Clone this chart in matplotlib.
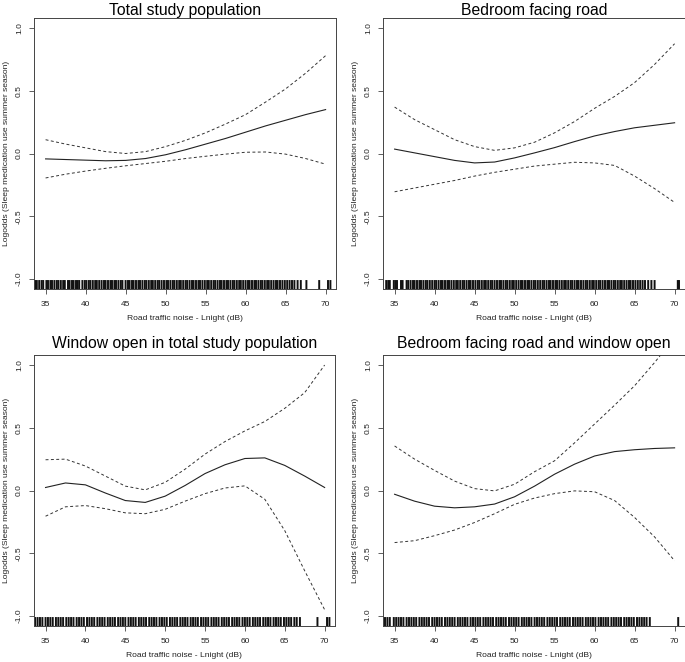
import matplotlib
matplotlib.use('Agg')
import matplotlib.pyplot as plt
import matplotlib.transforms as mtransforms

plt.rcParams['font.family'] = ['Liberation Sans', 'DejaVu Sans']

# noise levels (dB) at which the smooth curves were read
noise = [35, 37.5, 40, 42.5, 45, 47.5, 50, 52.5, 55, 57.5, 60, 62.5, 65, 67.5, 70]

titles = ['Total study population',
          'Bedroom facing road',
          'Window open in total study population',
          'Bedroom facing road and window open']

# log odds estimate and confidence bands per panel
fit_total = [-0.043, -0.048, -0.053, -0.058, -0.055, -0.04, -0.01, 0.03, 0.075, 0.12, 0.17, 0.22, 0.265, 0.31, 0.35]
upper_total = [0.11, 0.075, 0.045, 0.015, 0.0, 0.015, 0.055, 0.105, 0.165, 0.235, 0.31, 0.41, 0.515, 0.64, 0.78]
lower_total = [-0.195, -0.165, -0.14, -0.118, -0.098, -0.08, -0.062, -0.04, -0.022, -0.005, 0.01, 0.012, -0.005, -0.04, -0.085]

fit_road = [0.035, 0.005, -0.025, -0.055, -0.075, -0.068, -0.035, 0.005, 0.047, 0.095, 0.14, 0.175, 0.205, 0.225, 0.245]
upper_road = [0.37, 0.27, 0.19, 0.11, 0.055, 0.025, 0.045, 0.09, 0.165, 0.255, 0.36, 0.455, 0.565, 0.71, 0.875]
lower_road = [-0.305, -0.275, -0.245, -0.215, -0.18, -0.15, -0.125, -0.1, -0.085, -0.07, -0.075, -0.095, -0.18, -0.28, -0.39]

fit_window = [0.024, 0.06, 0.045, -0.02, -0.08, -0.095, -0.045, 0.04, 0.135, 0.205, 0.255, 0.26, 0.2, 0.115, 0.024]
upper_window = [0.245, 0.25, 0.195, 0.115, 0.035, 0.005, 0.065, 0.17, 0.29, 0.39, 0.475, 0.55, 0.655, 0.78, 1.0]
lower_window = [-0.205, -0.13, -0.12, -0.145, -0.178, -0.185, -0.15, -0.085, -0.025, 0.02, 0.037, -0.07, -0.32, -0.64, -0.95]

fit_road_window = [-0.03, -0.085, -0.125, -0.138, -0.13, -0.108, -0.05, 0.035, 0.13, 0.21, 0.275, 0.31, 0.325, 0.335, 0.34]
upper_road_window = [0.355, 0.25, 0.16, 0.075, 0.015, -0.003, 0.05, 0.15, 0.237, 0.38, 0.53, 0.68, 0.835, 1.02, 1.22]
lower_road_window = [-0.415, -0.4, -0.36, -0.315, -0.255, -0.185, -0.11, -0.06, -0.025, -0.003, -0.01, -0.08, -0.215, -0.37, -0.56]

# observed noise levels (rug)
rug_total = [33.7, 33.9, 34.2, 34.5, 34.7, 35.1, 35.3, 35.6, 35.8, 36.1, 36.4, 36.6, 36.9, 37.2, 37.4,
             37.8, 38.0, 38.3, 38.5, 38.8, 39.0, 39.2, 39.6, 39.9, 40.1, 40.4, 40.6, 40.9, 41.2, 41.4,
             41.7, 42.0, 42.3, 42.5, 42.8, 43.1, 43.3, 43.6, 43.8, 44.1, 44.4, 44.6, 45.0, 45.3, 45.5,
             45.8, 46.0, 46.3, 46.6, 46.8, 47.1, 47.4, 47.6, 47.9, 48.2, 48.4, 48.7, 49.0, 49.2, 49.5,
             49.8, 50.1, 50.3, 50.6, 50.9, 51.1, 51.4, 51.7, 51.9, 52.2, 52.5, 52.7, 53.0, 53.3, 53.5,
             53.8, 54.1, 54.3, 54.6, 54.9, 55.2, 55.4, 55.7, 56.0, 56.2, 56.5, 56.8, 57.0, 57.3, 57.6,
             57.8, 58.1, 58.4, 58.6, 58.9, 59.2, 59.4, 59.7, 60.0, 60.3, 60.5, 60.8, 61.1, 61.3, 61.6,
             61.9, 62.1, 62.4, 62.7, 62.9, 63.2, 63.5, 63.8, 64.0, 64.3, 64.6, 64.9, 65.2, 65.5, 65.8,
             66.1, 66.5, 66.9, 67.6, 69.2, 70.3, 70.6]
rug_road = [33.95, 34.2, 34.4, 34.9, 35.1, 35.3, 35.8, 36.0, 36.5, 36.7, 37.0, 37.3, 37.5, 37.8, 38.1,
            38.3, 38.6, 38.9, 39.1, 39.4, 39.7, 40.0, 40.2, 40.5, 40.8, 41.0, 41.3, 41.6, 41.8, 42.1,
            42.4, 42.7, 42.9, 43.2, 43.5, 43.7, 44.0, 44.3, 44.5, 44.8, 45.1, 45.4, 45.6, 45.9, 46.2,
            46.4, 46.7, 47.0, 47.2, 47.5, 47.8, 48.1, 48.3, 48.6, 48.9, 49.1, 49.4, 49.7, 49.9, 50.2,
            50.5, 50.8, 51.0, 51.3, 51.6, 51.8, 52.1, 52.4, 52.6, 52.9, 53.2, 53.5, 53.7, 54.0, 54.3,
            54.5, 54.8, 55.1, 55.3, 55.6, 55.9, 56.2, 56.4, 56.7, 57.0, 57.2, 57.5, 57.8, 58.0, 58.3,
            58.6, 58.9, 59.1, 59.4, 59.7, 59.9, 60.2, 60.5, 60.7, 61.0, 61.3, 61.6, 61.8, 62.1, 62.4,
            62.6, 62.9, 63.2, 63.4, 63.7, 64.0, 64.3, 64.5, 64.8, 65.1, 65.4, 65.7, 66.0, 66.3, 66.7,
            67.1, 67.5, 70.4, 70.55]
rug_window = [33.7, 34.0, 34.3, 34.6, 35.0, 35.3, 35.6, 35.9, 36.3, 36.6, 36.9, 37.2, 37.6, 37.9, 38.2,
              38.5, 38.9, 39.2, 39.5, 39.8, 40.2, 40.5, 40.8, 41.1, 41.5, 41.8, 42.1, 42.4, 42.8, 43.1,
              43.4, 43.7, 44.1, 44.4, 44.7, 45.0, 45.4, 45.7, 46.0, 46.3, 46.7, 47.0, 47.3, 47.6, 48.0,
              48.3, 48.6, 48.9, 49.3, 49.6, 49.9, 50.2, 50.6, 50.9, 51.2, 51.5, 51.9, 52.2, 52.5, 52.8,
              53.2, 53.5, 53.8, 54.1, 54.5, 54.8, 55.1, 55.4, 55.8, 56.1, 56.4, 56.7, 57.1, 57.4, 57.7,
              58.0, 58.4, 58.7, 59.0, 59.3, 59.7, 60.0, 60.3, 60.6, 61.0, 61.3, 61.6, 61.9, 62.3, 62.6,
              62.9, 63.2, 63.6, 63.9, 64.2, 64.5, 64.9, 65.2, 65.5, 65.8, 66.2, 66.5, 66.9, 69.1, 70.3,
              70.6]
rug_road_window = [33.8, 34.1, 34.4, 34.9, 35.2, 35.5, 35.8, 36.1, 36.5, 36.8, 37.1, 37.4, 37.7, 38.1, 38.4,
                   38.7, 39.0, 39.3, 39.7, 40.0, 40.3, 40.6, 40.9, 41.3, 41.6, 41.9, 42.2, 42.5, 42.9, 43.2,
                   43.5, 43.8, 44.1, 44.5, 44.8, 45.1, 45.4, 45.7, 46.1, 46.4, 46.7, 47.0, 47.3, 47.7, 48.0,
                   48.3, 48.6, 48.9, 49.3, 49.6, 49.9, 50.2, 50.5, 50.9, 51.2, 51.5, 51.8, 52.1, 52.5, 52.8,
                   53.1, 53.4, 53.7, 54.1, 54.4, 54.7, 55.0, 55.3, 55.7, 56.0, 56.3, 56.6, 56.9, 57.3, 57.6,
                   57.9, 58.2, 58.5, 58.9, 59.2, 59.5, 59.8, 60.1, 60.5, 60.8, 61.1, 61.4, 61.7, 62.1, 62.4,
                   62.7, 63.0, 63.3, 63.7, 64.0, 64.3, 64.6, 64.9, 65.3, 65.6, 65.9, 66.2, 66.5, 66.9, 70.45]

x_ticks = [35, 40, 45, 50, 55, 60, 65, 70]
y_ticks = [-1.0, -0.5, 0.0, 0.5, 1.0]
y_tick_labels = ['-1.0', '-0.5', '0.0', '0.5', '1.0']

panels = [
    (fit_total, upper_total, lower_total, rug_total),
    (fit_road, upper_road, lower_road, rug_road),
    (fit_window, upper_window, lower_window, rug_window),
    (fit_road_window, upper_road_window, lower_road_window, rug_road_window),
]

W, H = 685, 662
fig = plt.figure(figsize=(W / 100, H / 100), dpi=100)

# axes boxes in pixels: left, top, right, bottom
boxes = [(34, 18, 336, 289), (383, 18, 685, 289),
         (34, 355, 335, 626), (383, 355, 685, 626)]
title_pads = [2.5, 2.5, 5, 5]

frame_col = '#444444'
for (fit, up, lo, rug), title, (l, t, r, b), tpad in zip(panels, titles, boxes, title_pads):
    ax = fig.add_axes([l / W, 1 - b / H, (r - l) / W, (b - t) / H])
    ax.plot(noise, fit, color='#222222', lw=0.8)
    ax.plot(noise, up, color='#333333', lw=0.7, linestyle=(0, (3, 2.5)))
    ax.plot(noise, lo, color='#333333', lw=0.7, linestyle=(0, (3, 2.5)))

    # rug along the bottom of the plot
    trans = mtransforms.blended_transform_factory(ax.transData, ax.transAxes)
    ax.vlines(rug, 0, 0.033, transform=trans, color='#111111', lw=1.4, snap=False)

    ax.set_xlim(33.55, 71.3)
    ax.set_ylim(-1.08, 1.08)
    ax.set_xticks(x_ticks)
    ax.set_yticks(y_ticks)
    ax.set_yticklabels(y_tick_labels, rotation=90, va='center')
    ax.tick_params(length=3.5, width=0.6, color=frame_col, labelsize=6.0,
                   labelcolor='#222222')
    ax.tick_params(axis='x', pad=5)
    ax.tick_params(axis='y', pad=4.5)
    for s in ax.spines.values():
        s.set_color(frame_col)
        s.set_linewidth(0.7)

    ax.set_xlabel('Road traffic noise - Lnight (dB)', fontsize=6.1, color='#222222', labelpad=5)
    ax.set_ylabel('Logodds (Sleep medication use summer season)', fontsize=6.1,
                  color='#222222', labelpad=4)
    ax.set_title(title, fontsize=11.3, pad=tpad)

fig.savefig('out.png', dpi=100)
